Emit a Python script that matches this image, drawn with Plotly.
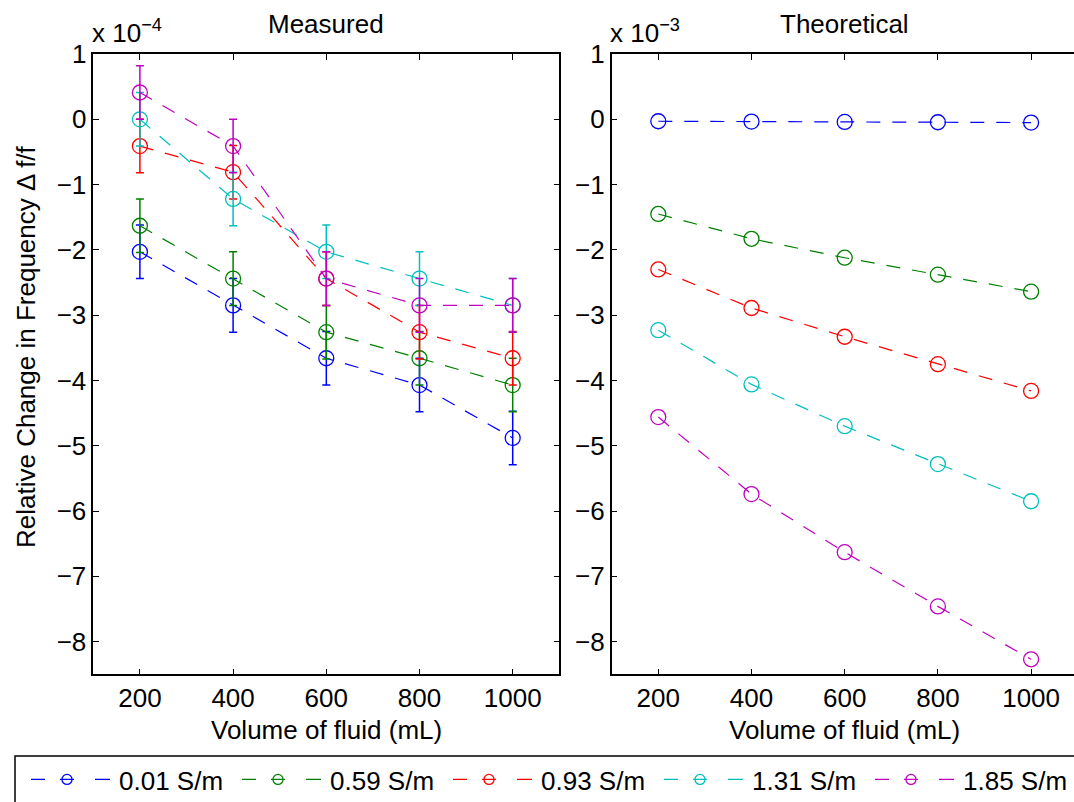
import plotly.graph_objects as go

W, H = 1074, 802

volumes = [200, 400, 600, 800, 1000]
series_labels = ["0.01 S/m", "0.59 S/m", "0.93 S/m", "1.31 S/m", "1.85 S/m"]
colors = ["#0000ff", "#008000", "#ff0000", "#00bfbf", "#bf00bf"]

# Measured relative change (units of 1e-4)
measured_001 = [-2.03, -2.85, -3.66, -4.07, -4.88]
measured_059 = [-1.63, -2.44, -3.26, -3.66, -4.07]
measured_093 = [-0.41, -0.81, -2.44, -3.26, -3.66]
measured_131 = [0.00, -1.22, -2.03, -2.44, -2.85]
measured_185 = [0.41, -0.41, -2.44, -2.85, -2.85]
measured_err = [0.41, 0.41, 0.41, 0.41, 0.41]

# Theoretical relative change (units of 1e-3)
theory_001 = [-0.03, -0.035, -0.04, -0.045, -0.05]
theory_059 = [-1.45, -1.83, -2.12, -2.38, -2.64]
theory_093 = [-2.30, -2.89, -3.33, -3.75, -4.16]
theory_131 = [-3.23, -4.06, -4.70, -5.28, -5.85]
theory_185 = [-4.56, -5.74, -6.63, -7.46, -8.27]

y_ticks = [1, 0, -1, -2, -3, -4, -5, -6, -7, -8]
x_ticks = [200, 400, 600, 800, 1000]

measured = [measured_001, measured_059, measured_093, measured_131, measured_185]
theory = [theory_001, theory_059, theory_093, theory_131, theory_185]

FONT = "Arial, Liberation Sans, Helvetica, sans-serif"
FS = 26
DASH = "14px,12px"
LEGEND_DASH = "0px,11px,14px,15px,14px,21px,15px,60px"

fig = go.Figure()

for lab, col, yv in zip(series_labels, colors, measured):
    fig.add_trace(go.Scatter(
        x=volumes, y=yv, mode="lines+markers", name=lab, showlegend=False,
        line=dict(color=col, width=1.2, dash=DASH),
        marker=dict(symbol="circle-open", size=15, color=col, line=dict(width=1.3, color=col)),
        error_y=dict(type="data", array=measured_err, visible=True, color=col, thickness=1.5, width=4),
        xaxis="x", yaxis="y"))

for lab, col, yv in zip(series_labels, colors, theory):
    fig.add_trace(go.Scatter(
        x=volumes, y=yv, mode="lines+markers", name=lab, showlegend=False,
        line=dict(color=col, width=1.2, dash=DASH),
        marker=dict(symbol="circle-open", size=15, color=col, line=dict(width=1.3, color=col)),
        xaxis="x2", yaxis="y2"))

# legend-only entries
for lab, col in zip(series_labels, colors):
    fig.add_trace(go.Scatter(
        x=[None], y=[None], mode="lines+markers", name=lab, showlegend=True,
        line=dict(color=col, width=1.2, dash=LEGEND_DASH),
        marker=dict(symbol="circle-open", size=10, color=col, line=dict(width=1.3, color=col)),
        xaxis="x", yaxis="y"))

x_left = (93.3 / W, 559.3 / W)
x_right = (611.7 / W, 1.0)
ydom = (1 - 674.3 / H, 1 - 54 / H)
px_per_unit = (559.3 - 93.3) / 1000.0
right_max = 100 + (W - 611.7) / px_per_unit

axis_common = dict(
    showgrid=False, zeroline=False, showline=True, linecolor="black", linewidth=1.5,
    ticks="inside", ticklen=6, tickwidth=1, tickcolor="black",
    tickfont=dict(family=FONT, size=FS, color="black"),
)

fig.update_layout(
    width=W, height=H,
    margin=dict(l=0, r=0, t=0, b=0, autoexpand=False),
    paper_bgcolor="white", plot_bgcolor="white",
    font=dict(family=FONT, size=FS, color="black"),
    xaxis=dict(domain=x_left, range=[100, 1100], tickvals=x_ticks, mirror="ticks",
               anchor="y", **axis_common),
    yaxis=dict(domain=ydom, range=[-8.5, 1], tickvals=y_ticks, mirror="ticks",
               anchor="x", **axis_common),
    xaxis2=dict(domain=x_right, range=[100, right_max], tickvals=x_ticks, mirror="ticks",
                anchor="y2", **axis_common),
    yaxis2=dict(domain=ydom, range=[-8.5, 1], tickvals=y_ticks, mirror=False,
                anchor="x2", **axis_common),
    showlegend=True,
    legend=dict(orientation="h", x=15 / W, xanchor="left", y=1 - 756 / H, yanchor="top",
                font=dict(family=FONT, size=FS, color="black"),
                itemwidth=94, entrywidth=102, entrywidthmode="pixels",
                bgcolor="rgba(0,0,0,0)", borderwidth=0, traceorder="normal"),
)

# legend box
fig.add_shape(type="rect", xref="paper", yref="paper",
              x0=15 / W, x1=1.02, y0=-0.05, y1=1 - 756 / H,
              line=dict(color="black", width=1.5), fillcolor="rgba(0,0,0,0)")

def ann(text, xpx, ypx, xanchor="center", yanchor="middle", angle=0, size=FS):
    fig.add_annotation(text=text, xref="paper", yref="paper",
                       x=xpx / W, y=1 - ypx / H, xanchor=xanchor, yanchor=yanchor,
                       showarrow=False, textangle=angle,
                       font=dict(family=FONT, size=size, color="black"))

ann("Measured", 326.3, 24)
ann("Theoretical", 844.7, 24)
ann("x 10<sup>\u22124</sup>", 90, 32, xanchor="left")
ann("x 10<sup>\u22123</sup>", 608, 32, xanchor="left")
ann("Volume of fluid (mL)", 326.3, 730)
ann("Volume of fluid (mL)", 844.7, 730)
ann("Relative Change in Frequency \u0394 f/f", 26, 347, angle=-90)

fig.write_html("out.html")
